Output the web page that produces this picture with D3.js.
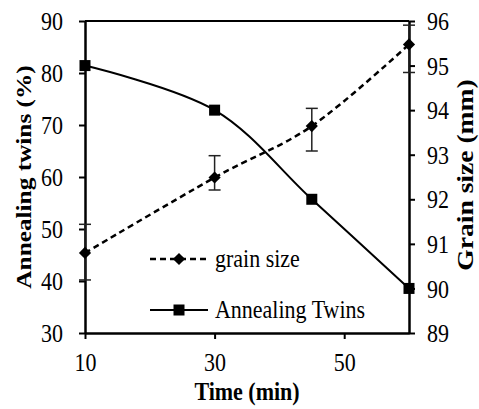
<!DOCTYPE html>
<html>
<head>
<meta charset="utf-8">
<script src="https://cdn.jsdelivr.net/npm/d3@7"></script>
<style>
  body { margin: 0; background: #fff; }
  svg text { font-family: "Liberation Serif", "Times New Roman", serif; fill: #000; }
</style>
</head>
<body>
<div class="chart"></div>
<script>
// data
const TIMES = [10, 30, 45, 60];
const GRAIN_SIZE = [45.4, 59.9, 69.8, 85.5];       // plotted against the left axis
const GRAIN_ERR_PLUS = [5.5, 4.2, 3.4, 3.7];
const GRAIN_ERR_MINUS = [5.2, 2.4, 4.8, 5.4];
const TWINS = [95.0, 94.0, 92.0, 90.0];            // plotted against the right axis
const X_TICKS = [10, 30, 50];
const LEFT_TICKS = [30, 40, 50, 60, 70, 80, 90];
const RIGHT_TICKS = [89, 90, 91, 92, 93, 94, 95, 96];

// frame
const FRAME_WIDTH = 479;
const FRAME_HEIGHT = 409;
const MARGINS = {left: 85, right: 70, top: 21, bottom: 76};
const WIDTH = FRAME_WIDTH - MARGINS.left - MARGINS.right;
const HEIGHT = FRAME_HEIGHT - MARGINS.top - MARGINS.bottom;
const STRETCH = 1.15; // the source picture is a bit taller than it should be
const FONT = 22;

const SVG = d3.select(".chart")
              .append("svg")
              .attr("width", FRAME_WIDTH)
              .attr("height", FRAME_HEIGHT);

const X_SCALE = d3.scaleLinear().domain([10, 60]).range([0, WIDTH]);
const Y_LEFT = d3.scaleLinear().domain([30, 90]).range([HEIGHT, 0]);
const Y_RIGHT = d3.scaleLinear().domain([89, 96]).range([HEIGHT, 0]);

const PLOT = SVG.append("g")
                .attr("transform", "translate(" + MARGINS.left + "," + MARGINS.top + ")");

// top border
PLOT.append("line")
    .attr("x1", 0).attr("x2", WIDTH)
    .attr("y1", 0).attr("y2", 0)
    .attr("stroke", "#000").attr("stroke-width", 2);

// axes
function styleAxis(g) {
  g.select(".domain").attr("stroke-width", 2.5);
  g.selectAll(".tick line").attr("stroke-width", 2);
  g.selectAll("text")
   .attr("font-size", FONT + "px")
   .attr("font-family", null)
   .attr("transform", "scale(1," + STRETCH + ")");
}

PLOT.append("g")
    .attr("transform", "translate(0," + HEIGHT + ")")
    .call(d3.axisBottom(X_SCALE).tickValues(X_TICKS).tickFormat(d3.format("d"))
            .tickSize(6).tickSizeOuter(0))
    .call(styleAxis)
    .call(g => g.selectAll("text").attr("y", 38 / STRETCH).attr("dy", 0));

PLOT.append("g")
    .call(d3.axisLeft(Y_LEFT).tickValues(LEFT_TICKS).tickFormat(d3.format("d"))
            .tickSize(6).tickSizeOuter(0))
    .call(styleAxis)
    .call(g => g.selectAll("text").attr("x", -22).attr("dy", "0.34em"));

PLOT.append("g")
    .attr("transform", "translate(" + WIDTH + ",0)")
    .call(d3.axisRight(Y_RIGHT).tickValues(RIGHT_TICKS).tickFormat(d3.format("d"))
            .tickSize(6).tickSizeOuter(0))
    .call(styleAxis)
    .call(g => g.selectAll("text").attr("x", 18).attr("dy", "0.34em"));

// smooth lines like the spreadsheet ones
const grainLine = d3.line()
                    .x((d, i) => X_SCALE(TIMES[i]))
                    .y((d) => Y_LEFT(d))
                    .curve(d3.curveCatmullRom.alpha(0));

const twinLine = d3.line()
                   .x((d, i) => X_SCALE(TIMES[i]))
                   .y((d) => Y_RIGHT(d))
                   .curve(d3.curveCatmullRom.alpha(0));

PLOT.append("path")
    .attr("d", twinLine(TWINS))
    .attr("fill", "none")
    .attr("stroke", "#000")
    .attr("stroke-width", 2);

PLOT.append("path")
    .attr("d", grainLine(GRAIN_SIZE))
    .attr("fill", "none")
    .attr("stroke", "#000")
    .attr("stroke-width", 2.5)
    .attr("stroke-dasharray", "6,4");

// error bars on grain size
const errs = PLOT.selectAll(".err")
                 .data(GRAIN_SIZE)
                 .enter()
                 .append("g")
                 .attr("class", "err")
                 .attr("stroke", "#222")
                 .attr("stroke-width", 1.5);

errs.append("line")
    .attr("x1", (d, i) => X_SCALE(TIMES[i]))
    .attr("x2", (d, i) => X_SCALE(TIMES[i]))
    .attr("y1", (d, i) => Y_LEFT(d + GRAIN_ERR_PLUS[i]))
    .attr("y2", (d, i) => Y_LEFT(d - GRAIN_ERR_MINUS[i]));

errs.append("line")
    .attr("x1", (d, i) => X_SCALE(TIMES[i]) - 6)
    .attr("x2", (d, i) => X_SCALE(TIMES[i]) + 6)
    .attr("y1", (d, i) => Y_LEFT(d + GRAIN_ERR_PLUS[i]))
    .attr("y2", (d, i) => Y_LEFT(d + GRAIN_ERR_PLUS[i]));

errs.append("line")
    .attr("x1", (d, i) => X_SCALE(TIMES[i]) - 6)
    .attr("x2", (d, i) => X_SCALE(TIMES[i]) + 6)
    .attr("y1", (d, i) => Y_LEFT(d - GRAIN_ERR_MINUS[i]))
    .attr("y2", (d, i) => Y_LEFT(d - GRAIN_ERR_MINUS[i]));

// markers
const diamond = d3.symbol().type(d3.symbolDiamond2).size(95);

PLOT.selectAll(".sq")
    .data(TWINS)
    .enter()
    .append("rect")
    .attr("x", (d, i) => X_SCALE(TIMES[i]) - 5.5)
    .attr("y", (d) => Y_RIGHT(d) - 5.5)
    .attr("width", 11)
    .attr("height", 11)
    .attr("fill", "#000");

PLOT.selectAll(".dia")
    .data(GRAIN_SIZE)
    .enter()
    .append("path")
    .attr("d", diamond)
    .attr("transform", (d, i) => "translate(" + X_SCALE(TIMES[i]) + "," + Y_LEFT(d) + ")")
    .attr("fill", "#000");

// legend
const LEGEND = SVG.append("g").attr("transform", "translate(150,259)");

LEGEND.append("line")
      .attr("x1", 0).attr("x2", 58).attr("y1", 0).attr("y2", 0)
      .attr("stroke", "#000").attr("stroke-width", 2.5)
      .attr("stroke-dasharray", "6,4");
LEGEND.append("path")
      .attr("d", diamond)
      .attr("transform", "translate(29,0)");
LEGEND.append("g")
      .attr("transform", "translate(65,8) scale(1," + STRETCH + ")")
      .append("text")
      .attr("font-size", FONT + "px")
      .text("grain size");

LEGEND.append("line")
      .attr("x1", 0).attr("x2", 58).attr("y1", 51).attr("y2", 51)
      .attr("stroke", "#000").attr("stroke-width", 2);
LEGEND.append("rect")
      .attr("x", 23.5).attr("y", 45.5).attr("width", 11).attr("height", 11);
LEGEND.append("g")
      .attr("transform", "translate(65,59) scale(1," + STRETCH + ")")
      .append("text")
      .attr("font-size", FONT + "px")
      .text("Annealing Twins");

// axis titles
SVG.append("g")
   .attr("transform", "translate(247,400) scale(1," + STRETCH + ")")
   .append("text")
   .attr("text-anchor", "middle")
   .attr("font-size", FONT + "px")
   .attr("font-weight", "bold")
   .text("Time (min)");

SVG.append("g")
   .attr("transform", "translate(31,177) scale(1," + STRETCH + ") rotate(-90)")
   .append("text")
   .attr("text-anchor", "middle")
   .attr("font-size", FONT + "px")
   .attr("font-weight", "bold")
   .text("Annealing twins (%)");

SVG.append("g")
   .attr("transform", "translate(473,175) scale(1," + STRETCH + ") rotate(-90)")
   .append("text")
   .attr("text-anchor", "middle")
   .attr("font-size", "24px")
   .attr("font-weight", "bold")
   .text("Grain size (mm)");
</script>
</body>
</html>
